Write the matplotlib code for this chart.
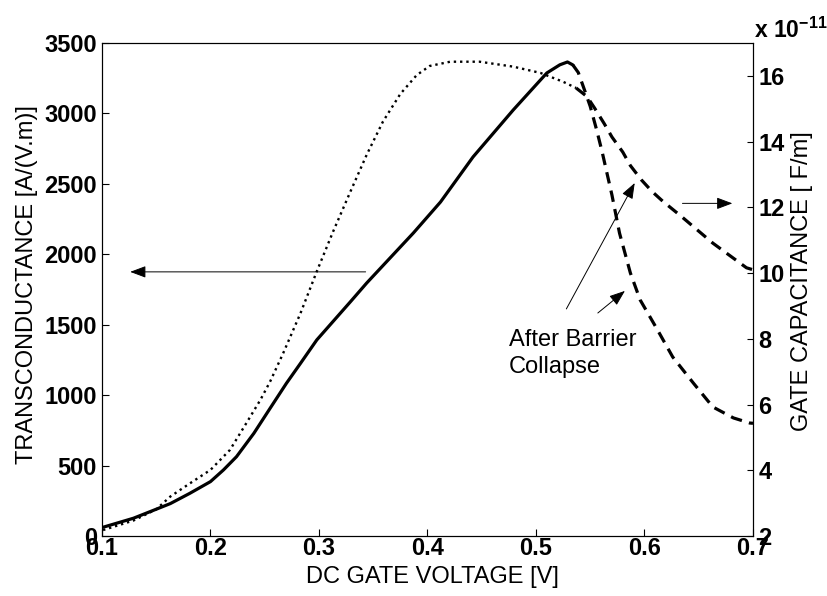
import matplotlib
matplotlib.use("Agg")
import matplotlib.pyplot as plt

# --- data ---
# transconductance (left axis), before and after barrier collapse
vg_gm = [0.101, 0.129, 0.150, 0.163, 0.181, 0.200, 0.212, 0.224, 0.240, 0.255,
         0.270, 0.283, 0.298, 0.329, 0.344, 0.387, 0.412, 0.442, 0.479, 0.510,
         0.522, 0.529, 0.534]
gm = [62, 126, 190, 230, 303, 386, 469, 563, 729, 907,
      1084, 1226, 1392, 1663, 1796, 2151, 2371, 2691, 3024, 3287,
      3345, 3365, 3344]

vg_gm_after = [0.534, 0.539, 0.545, 0.550, 0.556, 0.561, 0.565, 0.570, 0.577,
               0.587, 0.596, 0.612, 0.626, 0.645, 0.663, 0.682, 0.697, 0.700]
gm_after = [3344, 3290, 3160, 3050, 2880, 2726, 2590, 2421, 2150,
            1867, 1676, 1463, 1271, 1086, 916, 838, 802, 800]

# gate capacitance (right axis, units of 1e-11 F/m)
vg_cap = [0.101, 0.129, 0.150, 0.163, 0.181, 0.200, 0.218, 0.233, 0.246, 0.255,
          0.267, 0.283, 0.298, 0.313, 0.329, 0.344, 0.359, 0.375, 0.390, 0.402,
          0.421, 0.448, 0.479, 0.504, 0.525, 0.537]
cap = [2.18, 2.47, 2.81, 3.20, 3.60, 4.01, 4.62, 5.43, 6.14, 6.70,
       7.56, 8.78, 10.05, 11.26, 12.48, 13.60, 14.61, 15.45, 16.02, 16.30,
       16.43, 16.43, 16.28, 16.09, 15.82, 15.63]

vg_cap_after = [0.537, 0.547, 0.554, 0.563, 0.570, 0.580, 0.587, 0.597, 0.607,
                0.617, 0.633, 0.663, 0.694, 0.700]
cap_after = [15.63, 15.37, 15.02, 14.54, 14.14, 13.68, 13.27, 12.84, 12.48,
             12.18, 11.75, 10.91, 10.16, 10.10]

x_ticks = [0.1, 0.2, 0.3, 0.4, 0.5, 0.6, 0.7]
gm_ticks = [0, 500, 1000, 1500, 2000, 2500, 3000, 3500]
cap_ticks = [2, 4, 6, 8, 10, 12, 14, 16]

# --- style ---
plt.rcParams['font.family'] = ['Liberation Sans', 'DejaVu Sans']
plt.rcParams['mathtext.fontset'] = 'custom'
plt.rcParams['mathtext.rm'] = 'Liberation Sans'
plt.rcParams['mathtext.bf'] = 'Liberation Sans:bold'
plt.rcParams['mathtext.default'] = 'bf'

TICK_FS = 17
LABEL_FS = 17

fig = plt.figure(figsize=(8.27, 5.96), dpi=100)
ax = fig.add_axes([0.1233, 0.1007, 0.7872, 0.8272])
ax2 = ax.twinx()

ax.plot(vg_gm, gm, color='k', lw=2.3, solid_capstyle='round')
ax.plot(vg_gm_after, gm_after, color='k', lw=2.3, dashes=(3.6, 2.3))
ax2.plot(vg_cap, cap, color='k', lw=1.7, linestyle=':')
ax2.plot(vg_cap_after, cap_after, color='k', lw=2.3, dashes=(3.6, 2.3))

ax.set_xlim(0.1, 0.7)
ax.set_ylim(0, 3500)
ax2.set_ylim(2, 17)
ax.set_xticks(x_ticks)
ax.set_xticklabels([f"{v:g}" for v in x_ticks])
ax.set_yticks(gm_ticks)
ax2.set_yticks(cap_ticks)

for a in (ax, ax2):
    for s in a.spines.values():
        s.set_linewidth(0.8)
ax.tick_params(axis='x', direction='in', length=5, width=0.8, pad=0.5,
               labelsize=TICK_FS, top=False)
ax.tick_params(axis='y', direction='in', length=5, width=0.8, pad=3.5,
               labelsize=TICK_FS, right=False)
ax2.tick_params(axis='y', direction='in', length=4, width=0.8, pad=4,
                labelsize=TICK_FS)
for lab in ax.get_xticklabels() + ax.get_yticklabels() + ax2.get_yticklabels():
    lab.set_fontweight('bold')

ax.set_xlabel('DC GATE VOLTAGE [V]', fontsize=LABEL_FS)
ax.xaxis.set_label_coords(0.508, -0.061)
ax.set_ylabel('TRANSCONDUCTANCE [A/(V.m)]', fontsize=LABEL_FS)
ax.yaxis.set_label_coords(-0.098, 0.51)
ax2.set_ylabel('GATE CAPACITANCE [ F/m]', fontsize=LABEL_FS)
ax2.yaxis.set_label_coords(1.058, 0.517)

ax2.text(1.002, 1.010, r'x 10$^{-11}$', transform=ax.transAxes,
         fontsize=16.5, fontweight='bold', ha='left', va='baseline')

# --- arrows and annotation ---
arrow = dict(arrowstyle='-|>,head_length=0.8,head_width=0.3', color='k',
             lw=0.7, shrinkA=0, shrinkB=0, mutation_scale=12)
ax.annotate('', xy=(0.126, 1875), xytext=(0.343, 1875), arrowprops=arrow)
ax2.annotate('', xy=(0.681, 12.12), xytext=(0.635, 12.12), arrowprops=arrow)
ax.annotate('', xy=(0.591, 2506), xytext=(0.528, 1612), arrowprops=arrow)
ax.annotate('', xy=(0.582, 1740), xytext=(0.557, 1583), arrowprops=arrow)
ax.text(0.475, 1157, 'After Barrier\nCollapse', fontsize=LABEL_FS,
        ha='left', va='baseline', linespacing=1.3)

plt.savefig('out.png', dpi=100)
